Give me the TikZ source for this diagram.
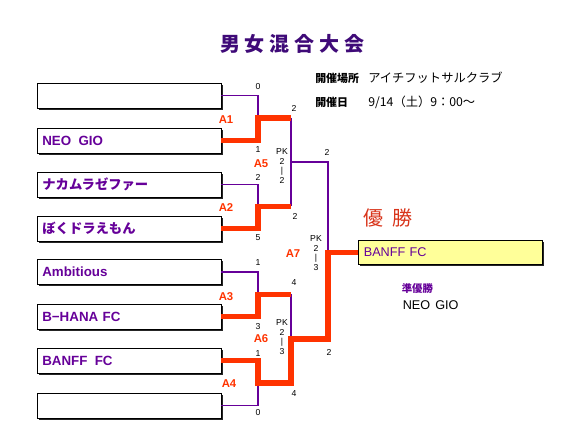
\documentclass[tikz,border=0pt]{standalone}
\usepackage{fontspec}
\setmainfont{Liberation Sans}
\newfontfamily\jp{Noto Sans CJK JP}
\usetikzlibrary{shadows}
\definecolor{pur}{HTML}{660099}
\definecolor{tpur}{HTML}{3F0A78}
\definecolor{rd}{HTML}{FF3300}
\definecolor{rd2}{HTML}{D8341A}
\definecolor{ylw}{HTML}{FFFF99}
\begin{document}
\begin{tikzpicture}[x=0.75pt,y=-0.75pt,
  teambox/.style={draw=black, line width=0.7pt, fill=white,
    minimum width=138pt, minimum height=18.75pt, text width=130pt,
    align=left, inner xsep=4pt, inner ysep=0pt,
    font=\bfseries\fontsize{10}{12}\selectfont, text=pur,
    drop shadow={shadow xshift=1.3pt, shadow yshift=-1.3pt, fill=black!85, opacity=1}},
  winbox/.style={draw=black, line width=0.7pt, fill=ylw,
    minimum width=138pt, minimum height=18.3pt, text width=130pt,
    align=left, inner xsep=2pt, inner ysep=0pt,
    font=\fontsize{9.5}{11}\selectfont, text=pur,
    drop shadow={shadow xshift=1.3pt, shadow yshift=-1.3pt, fill=black!85, opacity=1}},
  pline/.style={draw=pur, line width=1.1pt},
  rline/.style={draw=rd, line width=3.8pt, line join=miter},
  score/.style={font=\fontsize{6.5}{7}\selectfont, inner sep=0pt},
  pk/.style={font=\fontsize{6.5}{7.3}\selectfont, inner sep=0pt, align=center},
  alab/.style={font=\bfseries\fontsize{8.5}{9}\selectfont, text=rd, inner sep=0pt},
  ttl/.style={font=\jp\bfseries\fontsize{15}{16}\selectfont, text=tpur, inner sep=0pt},
  info/.style={font=\jp\bfseries\fontsize{8.2}{9}\selectfont, inner sep=0pt, anchor=west},
  infov/.style={font=\jp\fontsize{9.2}{10}\selectfont, inner sep=0pt, anchor=west}]
\useasboundingbox (0,0) rectangle (572,423);

% title
\foreach \c [count=\i] in {男,女,混,合,大,会}
  \node[ttl] (t\i) at ({230+24.8*(\i-1)},44) {\c};

% info
\node[info] (i1) at (315,78) {開催場所};
\node[info] (i2) at (315,102) {開催日};
\node[infov] (i3) at (368,78) {アイチフットサルクラブ};
\node[infov] (i4) at (368,102) {9/14（土）9：00～};

% team boxes
\node[teambox] (b1) at (129,95.5) {};
\node[teambox] (b2) at (129,140.5) {NEO\hspace{0.55em}GIO};
\node[teambox] (b3) at (129,184.5) {\jp ナカムラゼファー};
\node[teambox] (b4) at (129,228.5) {\jp ぼくドラえもん};
\node[teambox] (b5) at (129,272) {Ambitious};
\node[teambox] (b6) at (129,316.5) {B−HANA FC};
\node[teambox] (b7) at (129,360.5) {BANFF\hspace{0.55em}FC};
\node[teambox] (b8) at (129,405.5) {};

% winner
\node[winbox] (w) at (450.5,252.5) {BANFF FC};
\node[font=\jp\fontsize{15}{16}\selectfont, text=rd2, inner sep=0pt, anchor=west] (yu) at (363.5,218) {優\hspace{0.45em}勝};
\node[font=\jp\bfseries\fontsize{7.8}{9}\selectfont, text=pur, inner sep=0pt, anchor=west] (ju) at (401.5,289) {準優勝};
\node[font=\fontsize{9.5}{10}\selectfont, inner sep=0pt, anchor=west] (ru) at (402.5,305) {NEO\hspace{0.4em}GIO};

% junctions
\coordinate (m1) at (258,118);
\coordinate (r1) at (291,118);
\coordinate (m2) at (258,206.5);
\coordinate (r2) at (291,206.5);
\coordinate (m3) at (258,294.5);
\coordinate (r3) at (291,294.5);
\coordinate (m4) at (258,383);
\coordinate (r4) at (291,383);
\coordinate (q1) at (291,162);
\coordinate (f1) at (328,162);
\coordinate (q2) at (291,339);
\coordinate (f2) at (328,339);
\coordinate (fm) at (328,252.5);

% losing paths
\draw[pline] (b1.east) -| (m1);
\draw[pline] (b3.east) -| (m2);
\draw[pline] (b5.east) -| (m3);
\draw[pline] (b8.east) -| (m4);
\draw[pline] (r1) -- (r2);
\draw[pline] (q1) -- (f1) -- (fm);
\draw[pline] (r3) -- (q2);

% winning paths
\draw[rline] (b2.east) -| (m1) -- (r1);
\draw[rline] (b4.east) -| (m2) -- (r2);
\draw[rline] (b6.east) -| (m3) -- (r3);
\draw[rline] (b7.east) -| (m4) -- (r4) -- (q2) -- (f2) -- (fm) -- (w.west);

% match labels
\node[alab] (a1) at (226,120) {A1};
\node[alab] (a2) at (226,208) {A2};
\node[alab] (a3) at (226,297) {A3};
\node[alab] (a4) at (229,384) {A4};
\node[alab] (a5) at (261,164) {A5};
\node[alab] (a6) at (261,339) {A6};
\node[alab] (a7) at (293,254) {A7};

% scores
\node[score] (s1) at (258,87) {0};
\node[score] (s2) at (258,150) {1};
\node[score] (s3) at (258,177) {2};
\node[score] (s4) at (258,238) {5};
\node[score] (s5) at (258,263) {1};
\node[score] (s6) at (258,327) {3};
\node[score] (s7) at (258,354) {1};
\node[score] (s8) at (258,413) {0};
\node[score] (s9) at (294,108) {2};
\node[score] (s10) at (295,216) {2};
\node[score] (s11) at (294,283) {4};
\node[score] (s12) at (294,394) {4};
\node[score] (s13) at (327,152) {2};
\node[score] (s14) at (329,352) {2};
\node[pk] (p1) at (282,166) {PK\\2\\|\\2};
\node[pk] (p2) at (282,337) {PK\\2\\|\\3};
\node[pk] (p3) at (316,253) {PK\\2\\|\\3};
\end{tikzpicture}
\end{document}
